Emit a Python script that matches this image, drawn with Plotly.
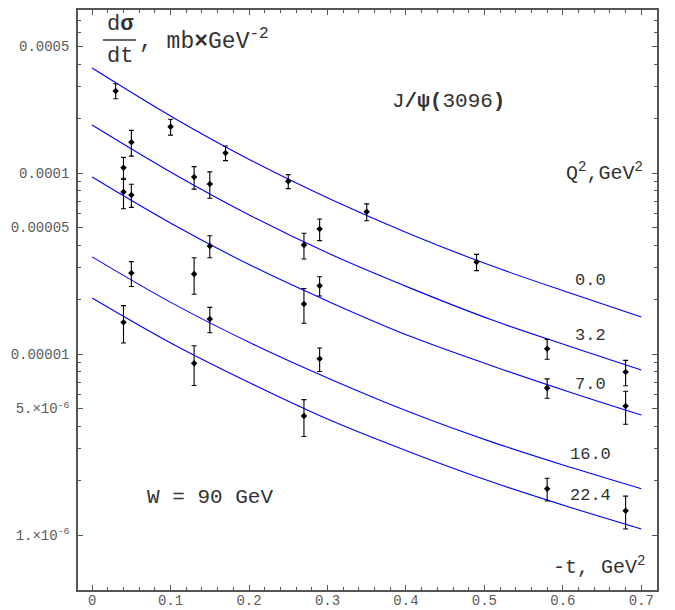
import plotly.graph_objects as go

# ---- model curves ----
t_curve = [0.0, 0.102, 0.204, 0.306, 0.408, 0.51, 0.612, 0.70]
curve_q0 = [3.80e-4, 2.04e-4, 1.165e-4, 7.09e-5, 4.545e-5, 3.06e-5, 2.15e-5, 1.60e-5]
curve_q3 = [1.84e-4, 1.00e-4, 5.75e-5, 3.52e-5, 2.29e-5, 1.54e-5, 1.09e-5, 8.16e-6]
curve_q7 = [9.50e-5, 5.23e-5, 3.06e-5, 1.91e-5, 1.24e-5, 8.59e-6, 6.09e-6, 4.60e-6]
curve_q16 = [3.44e-5, 1.91e-5, 1.14e-5, 7.19e-6, 4.72e-6, 3.26e-6, 2.35e-6, 1.80e-6]
curve_q22 = [2.04e-5, 1.14e-5, 6.83e-6, 4.26e-6, 2.84e-6, 1.96e-6, 1.41e-6, 1.08e-6]
curve_labels = ["0.0", "3.2", "7.0", "16.0", "22.4"]

# ---- data points ----
t_q0 = [0.03, 0.10, 0.17, 0.25, 0.35, 0.49]
y_q0 = [2.84e-4, 1.80e-4, 1.29e-4, 9.0e-5, 6.1e-5, 3.22e-5]
e_q0 = [2.7e-5, 1.8e-5, 1.2e-5, 8e-6, 6.5e-6, 3.3e-6]

t_q3 = [0.04, 0.05, 0.13, 0.15, 0.27, 0.29, 0.58, 0.68]
y_q3 = [1.07e-4, 1.48e-4, 9.5e-5, 8.7e-5, 4.0e-5, 4.9e-5, 1.07e-5, 7.95e-6]
e_q3 = [1.5e-5, 2.4e-5, 1.35e-5, 1.45e-5, 6.5e-6, 6.7e-6, 1.35e-6, 1.27e-6]

t_q7 = [0.04, 0.05, 0.15, 0.27, 0.29, 0.58, 0.68]
y_q7 = [7.85e-5, 7.56e-5, 3.95e-5, 1.89e-5, 2.38e-5, 6.49e-6, 5.16e-6]
e_q7 = [1.5e-5, 1.1e-5, 5.5e-6, 4.1e-6, 2.9e-6, 8e-7, 1.07e-6]

t_q16 = [0.05, 0.13, 0.15, 0.29]
y_q16 = [2.80e-5, 2.77e-5, 1.56e-5, 9.4e-6]
e_q16 = [4.4e-6, 6.3e-6, 2.5e-6, 1.4e-6]

t_q22 = [0.04, 0.13, 0.27, 0.58, 0.68]
y_q22 = [1.50e-5, 8.9e-6, 4.55e-6, 1.80e-6, 1.36e-6]
e_q22 = [3.5e-6, 2.2e-6, 1.05e-6, 2.6e-7, 2.8e-7]

# ---- ticks ----
x_tickvals = [0, 0.1, 0.2, 0.3, 0.4, 0.5, 0.6, 0.7]
x_ticktext = ["0", "0.1", "0.2", "0.3", "0.4", "0.5", "0.6", "0.7"]
y_tickvals = [1e-6, 5e-6, 1e-5, 5e-5, 1e-4, 5e-4]
y_ticktext = ["1.×10<sup>-6</sup>", "5.×10<sup>-6</sup>", "0.00001", "0.00005", "0.0001", "0.0005"]

FONT = "Liberation Mono"
L, R, T, B = 78, 657, 10, 590
W_, H_ = 675, 610


def px(x):
    return (x - L) / (R - L)


def py(y):
    return (B - y) / (B - T)


fig = go.Figure()

for cy in [curve_q0, curve_q3, curve_q7, curve_q16, curve_q22]:
    fig.add_trace(go.Scatter(x=t_curve, y=cy, mode="lines",
                             line=dict(color="#0000ff", width=1.1, shape="spline"),
                             showlegend=False, hoverinfo="skip"))

for tx, ty, te in [(t_q0, y_q0, e_q0), (t_q3, y_q3, e_q3), (t_q7, y_q7, e_q7),
                   (t_q16, y_q16, e_q16), (t_q22, y_q22, e_q22)]:
    fig.add_trace(go.Scatter(x=tx, y=ty, mode="markers",
                             marker=dict(symbol="diamond", size=5, color="black"),
                             error_y=dict(type="data", array=te, visible=True,
                                          color="black", thickness=1.1, width=2.5),
                             showlegend=False))

minor_x = [round(i * 0.02, 2) for i in range(0, 37) if (i % 5) != 0]
minor_y = []
for dec in [1e-6, 1e-5, 1e-4]:
    for m in [2, 3, 4, 6, 7, 8, 9]:
        minor_y.append(m * dec)

axis_common = dict(showline=True, linecolor="#555", linewidth=1.5, mirror="allticks",
                   ticks="inside", ticklen=5, tickcolor="#555", tickwidth=1,
                   showgrid=False, zeroline=False, automargin=False,
                   tickfont=dict(family=FONT, size=14, color="#5a5a5a"))

fig.update_xaxes(range=[-0.018, 0.72], tickvals=x_tickvals,
                 ticktext=x_ticktext, ticklabelstandoff=-4,
                 minor=dict(tickvals=minor_x, ticks="inside", ticklen=3, tickcolor="#555",
                            showgrid=False),
                 **axis_common)
fig.update_yaxes(type="log", range=[-4 - (B - 173) / 181, -4 + (173 - T) / 181],
                 tickvals=y_tickvals, ticktext=y_ticktext, ticklabelstandoff=4,
                 minor=dict(tickvals=minor_y, ticks="inside", ticklen=3, tickcolor="#555",
                            showgrid=False),
                 **axis_common)

ann = []
def A(text, x, y, size, xanchor="center", color="#333"):
    ann.append(dict(text=text, x=px(x), y=py(y), xref="paper", yref="paper",
                    xanchor=xanchor, yanchor="middle", showarrow=False,
                    font=dict(family=FONT, size=size, color=color)))

A("d<b>σ</b>", 120, 24, 22)
A("dt", 120, 56, 22)
A(", mb<b>×</b>GeV<sup>-2</sup>", 137, 40, 23, xanchor="left")
A("J<b>/ψ(</b>3096<b>)</b>", 390, 101, 21, xanchor="left")
A("Q<sup>2</sup>,GeV<sup>2</sup>", 645, 172, 20, xanchor="right")
for lab, yy in zip(curve_labels, [280, 335, 384, 454, 495]):
    A(lab, 590, yy, 17)
A("W = 90 GeV", 145, 497, 21, xanchor="left")
A("-t, GeV<sup>2</sup>", 647, 566, 20, xanchor="right")

fig.update_layout(width=W_, height=H_, margin=dict(l=L, r=W_ - R, t=T, b=H_ - B),
                  plot_bgcolor="white", paper_bgcolor="white", annotations=ann,
                  shapes=[dict(type="line", xref="paper", yref="paper",
                               x0=px(103), x1=px(136), y0=py(40), y1=py(40),
                               line=dict(color="#333", width=1.5))])

fig.write_html("out.html", config={"displayModeBar": False},
               post_script="document.documentElement.style.margin='0px';"
                           "document.body.style.margin='0px';"
                           "document.documentElement.style.overflow='hidden';"
                           "document.body.style.overflow='hidden';")
